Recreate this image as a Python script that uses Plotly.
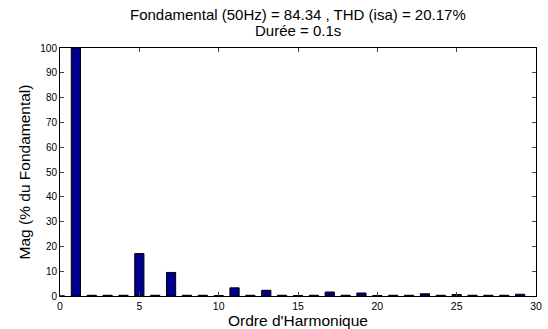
import plotly.graph_objects as go

harmonics = list(range(0, 30))
magnitudes = [0.0, 100.0, 0.3, 0.3, 0.3, 17.1, 0.3, 9.5, 0.3, 0.3,
              0.2, 3.3, 0.3, 2.3, 0.3, 0.2, 0.3, 1.6, 0.3, 1.2,
              0.2, 0.3, 0.3, 0.9, 0.3, 0.6, 0.3, 0.3, 0.3, 0.7]
x_ticks = [0, 5, 10, 15, 20, 25, 30]
y_ticks = [0, 10, 20, 30, 40, 50, 60, 70, 80, 90, 100]

title_line1 = "Fondamental (50Hz) = 84.34 , THD (isa) = 20.17%"
title_line2 = "Durée = 0.1s"

fig = go.Figure(go.Bar(
    x=harmonics, y=magnitudes, width=0.58,
    marker=dict(color="#00008F", line=dict(color="black", width=1)),
))

M_T, M_B = 48, 32
plot_h = 329 - M_T - M_B

fig.update_layout(
    width=548, height=329,
    margin=dict(l=60, r=6, t=M_T, b=M_B),
    paper_bgcolor="white", plot_bgcolor="white",
    font=dict(family="Liberation Sans, Arial", color="black"),
    showlegend=False,
    annotations=[
        dict(text=title_line1, x=0.5, y=1 + (M_T - 14.5) / plot_h, xref="paper", yref="paper",
             showarrow=False, font=dict(size=15), xanchor="center", yanchor="middle"),
        dict(text=title_line2, x=0.5, y=1 + (M_T - 30) / plot_h, xref="paper", yref="paper",
             showarrow=False, font=dict(size=15), xanchor="center", yanchor="middle"),
    ],
)
fig.update_xaxes(
    range=[0, 30], tickvals=x_ticks, ticks="inside", ticklen=4,
    showline=True, linecolor="black", linewidth=1, mirror="ticks",
    showgrid=False, zeroline=False, tickfont=dict(size=10.5),
    title=dict(text="Ordre d'Harmonique", font=dict(size=15.5), standoff=1),
)
fig.update_yaxes(
    range=[0, 100], tickvals=y_ticks, ticks="inside", ticklen=4,
    showline=True, linecolor="black", linewidth=1, mirror="ticks",
    showgrid=False, zeroline=False, tickfont=dict(size=10),
    title=dict(text="Mag (% du Fondamental)", font=dict(size=15.5), standoff=5),
)

fig.write_html("out.html")
